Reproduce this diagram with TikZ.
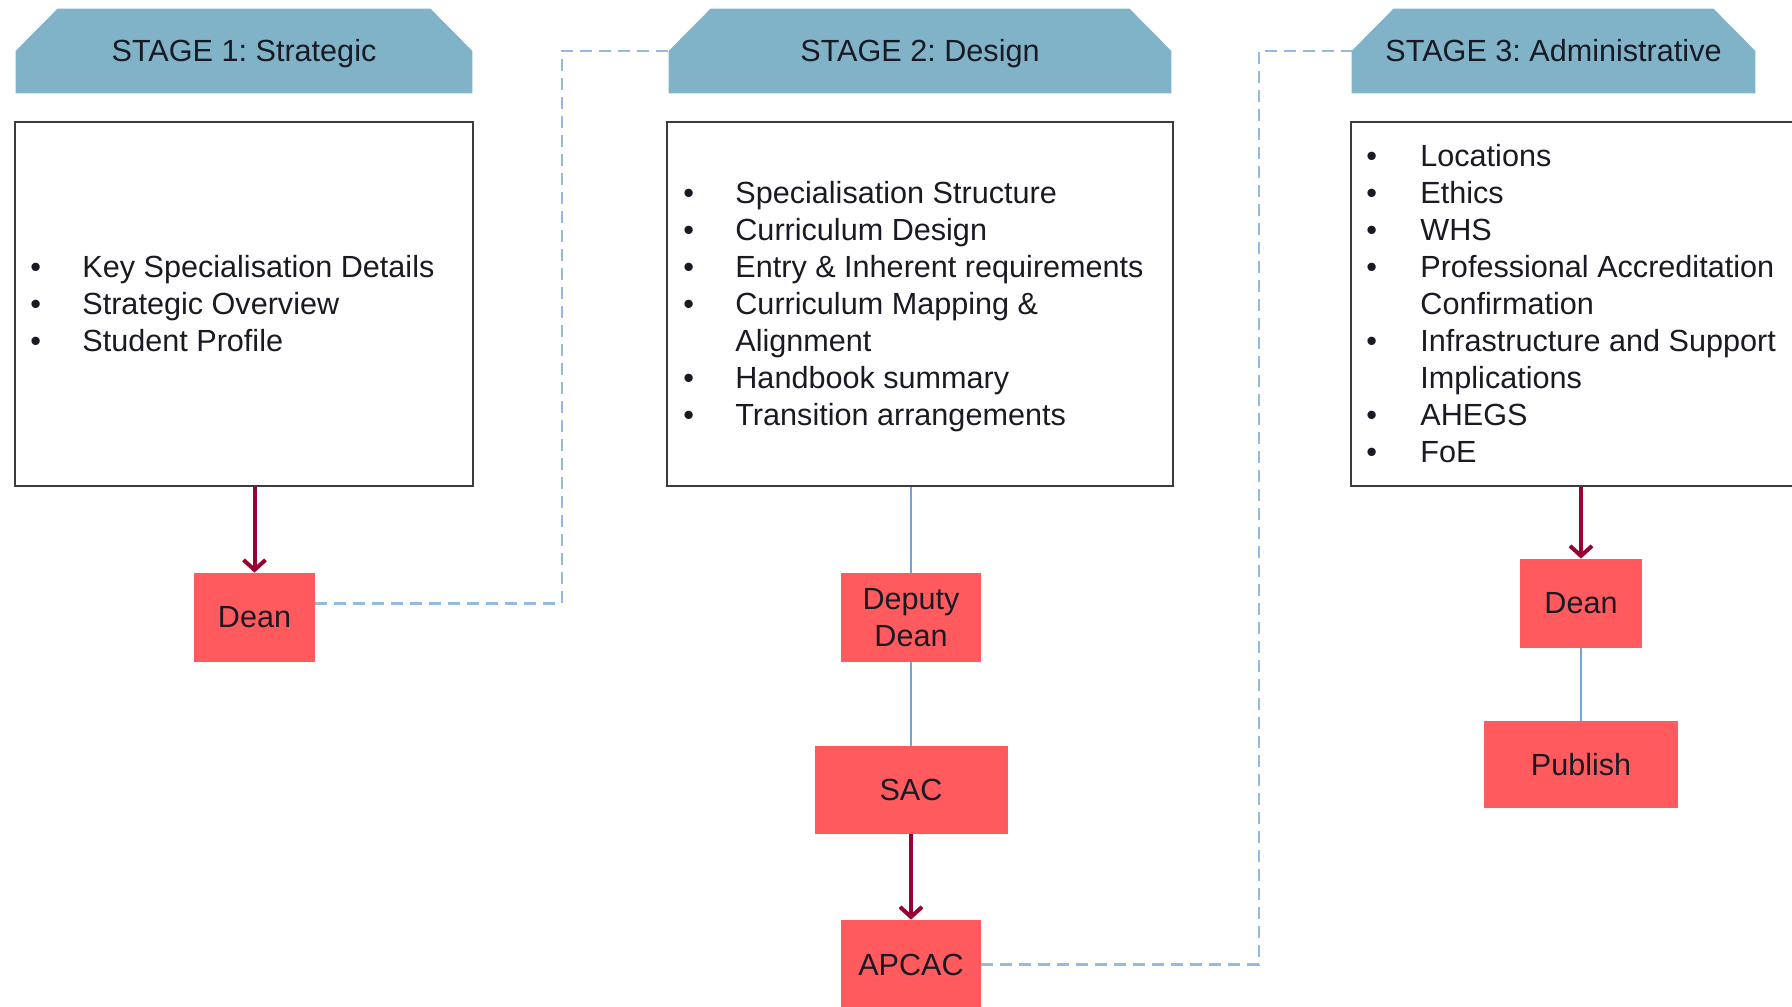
\documentclass[tikz,border=0pt]{standalone}
\usepackage{fontspec}
\setmainfont{Liberation Sans}
\usetikzlibrary{arrows.meta,calc}
\definecolor{hdrcol}{RGB}{128,179,200}
\definecolor{redbox}{RGB}{255,91,94}
\definecolor{arrcol}{RGB}{153,0,51}
\definecolor{linecol}{RGB}{118,163,212}
\definecolor{dashcol}{RGB}{150,185,225}
\definecolor{txt}{RGB}{26,26,36}
\definecolor{bordcol}{RGB}{60,60,60}
\pgfdeclarelayer{background}
\pgfsetlayers{background,main}
\newcommand\bla{\makebox[26pt][l]{•}}
\newcommand\blb{\makebox[27pt][l]{•}}
\frenchspacing
\begin{document}
\begin{tikzpicture}[x=0.5pt,y=-0.5pt,
  every node/.style={font=\fontsize{15.3}{18.5}\selectfont, text=txt},
  hdr/.style={minimum height=42pt, inner sep=0pt, text height=14pt, text depth=3.5pt},
  panel/.style={draw=bordcol, line width=1pt, minimum height=182pt, inner sep=0pt},
  role/.style={fill=redbox, inner sep=0pt, align=center},
  itemlist/.style={anchor=west, inner sep=0pt, align=left},
  flow/.style={draw=arrcol, line width=2pt, -{Straight Barb[length=5pt,width=11pt]}},
  link/.style={draw=linecol, line width=0.9pt},
  relay/.style={draw=dashcol, line width=1.1pt, dash pattern=on 6pt off 3.5pt}]
\useasboundingbox (0,0) rectangle (1792,1006);
\clip (0,0) rectangle (1792,1006);

% headers
\node[hdr, minimum width=228pt] (h1) at (244,51) {STAGE 1: Strategic};
\node[hdr, minimum width=251pt] (h2) at (920,51) {STAGE 2: Design};
\node[hdr, minimum width=201.5pt] (h3) at (1553.5,51) {STAGE 3: Administrative};
\begin{pgfonlayer}{background}
\foreach \h in {h1,h2,h3}{
  \fill[hdrcol] (\h.south west) -- (\h.west) -- ([xshift=21pt]\h.north west)
    -- ([xshift=-21pt]\h.north east) -- (\h.east) -- (\h.south east) -- cycle;
}
\end{pgfonlayer}

% panels
\node[panel, minimum width=229pt] (box1) at (244,304) {};
\node[panel, minimum width=253pt] (box2) at (920,304) {};
\node[panel, minimum width=232pt] (box3) at (1583,304) {};

\node[itemlist] (l1) at (30,307.5) {\begin{tabular}{@{}l@{}l@{}}
\bla & Key Specialisation Details\\
\bla & Strategic Overview\\
\bla & Student Profile
\end{tabular}};
\node[itemlist] (l2) at (683,307.5) {\begin{tabular}{@{}l@{}l@{}}
\bla & Specialisation Structure\\
\bla & Curriculum Design\\
\bla & Entry \& Inherent requirements\\
\bla & Curriculum Mapping \&\\
 & Alignment\\
\bla & Handbook summary\\
\bla & Transition arrangements
\end{tabular}};
\node[itemlist] (l3) at (1366,307.5) {\begin{tabular}{@{}l@{}l@{}}
\blb & Locations\\
\blb & Ethics\\
\blb & WHS\\
\blb & Professional Accreditation\\
 & Confirmation\\
\blb & Infrastructure and Support\\
 & Implications\\
\blb & AHEGS\\
\blb & FoE
\end{tabular}};

% role boxes
\node[role, minimum width=60.5pt, minimum height=44.5pt] (dean1) at (254.5,617.5) {Dean};
\node[role, minimum width=70pt, minimum height=44.5pt] (dep) at (911,617.5) {Deputy\\Dean};
\node[role, minimum width=96.5pt, minimum height=44pt] (sac) at (911,790) {SAC};
\node[role, minimum width=70pt, minimum height=44.5pt] (apcac) at (911,964.5) {APCAC};
\node[role, minimum width=61pt, minimum height=44.5pt] (dean3) at (1581,603.5) {Dean};
\node[role, minimum width=97pt, minimum height=43.5pt] (pub) at (1581,764.5) {Publish};

% connectors
\draw[flow] (dean1.north |- box1.south) -- (dean1.north);
\draw[link] (dep.north |- box2.south) -- (dep.north);
\draw[link] (dep.south) -- (sac.north);
\draw[flow] (sac.south) -- (apcac.north);
\draw[flow] (dean3.north |- box3.south) -- (dean3.north);
\draw[link] (dean3.south) -- (pub.north);

\coordinate (j1) at (562,51);
\coordinate (j2) at (1259,51);
\draw[relay] ([yshift=7pt]dean1.east) -| (j1) -- (h2.west);
\draw[relay] (apcac.east) -| (j2) -- (h3.west);
\end{tikzpicture}
\end{document}
